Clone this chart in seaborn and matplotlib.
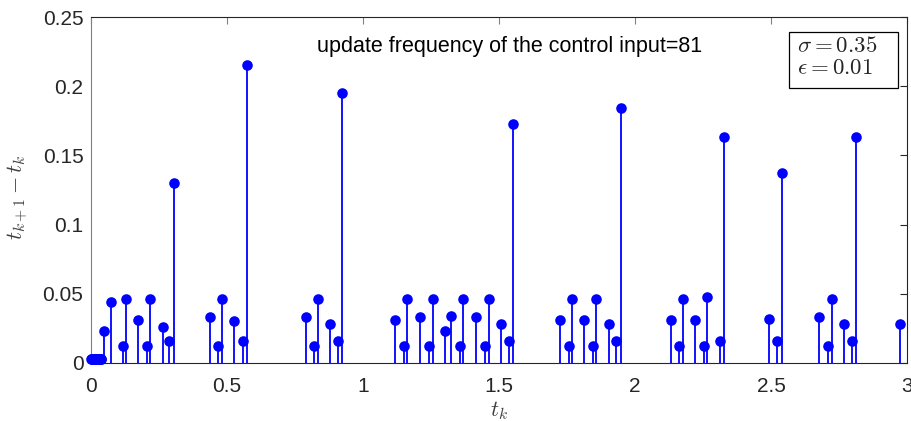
import matplotlib.pyplot as plt
import seaborn as sns
import pandas as pd
import numpy as np

# event times t_k and inter-event intervals t_{k+1}-t_k
t_start = [0.000, 0.0025, 0.005, 0.0075, 0.010, 0.0125, 0.015, 0.0175, 0.020,
           0.0225, 0.025, 0.0275, 0.030, 0.0325, 0.035, 0.037]
dt_start = [0.003, 0.003, 0.003, 0.003, 0.003, 0.003, 0.003, 0.003, 0.003,
            0.003, 0.003, 0.003, 0.003, 0.003, 0.003, 0.003]

t_rest = [0.049, 0.072, 0.116, 0.129, 0.173, 0.205, 0.217, 0.264, 0.288, 0.306,
          0.436, 0.467, 0.482, 0.526, 0.558, 0.572,
          0.789, 0.821, 0.836, 0.880, 0.909, 0.923,
          1.119, 1.151, 1.163, 1.210, 1.241, 1.256, 1.300, 1.322, 1.357, 1.369,
          1.415, 1.447, 1.462, 1.507, 1.536, 1.550,
          1.724, 1.756, 1.767, 1.813, 1.844, 1.858, 1.903, 1.931, 1.947,
          2.131, 2.163, 2.176, 2.222, 2.254, 2.265, 2.313, 2.328,
          2.493, 2.523, 2.539,
          2.676, 2.708, 2.723, 2.769, 2.797, 2.812,
          2.975]
dt_rest = [0.023, 0.044, 0.012, 0.046, 0.031, 0.012, 0.046, 0.026, 0.016, 0.130,
           0.033, 0.012, 0.046, 0.030, 0.016, 0.215,
           0.033, 0.012, 0.046, 0.028, 0.016, 0.195,
           0.031, 0.012, 0.046, 0.033, 0.012, 0.046, 0.023, 0.034, 0.012, 0.046,
           0.033, 0.012, 0.046, 0.028, 0.016, 0.173,
           0.031, 0.012, 0.046, 0.031, 0.012, 0.046, 0.028, 0.016, 0.184,
           0.031, 0.012, 0.046, 0.031, 0.012, 0.048, 0.016, 0.163,
           0.032, 0.016, 0.137,
           0.033, 0.012, 0.046, 0.028, 0.016, 0.163,
           0.028]

df = pd.DataFrame({'t': t_start + t_rest, 'dt': dt_start + dt_rest})

sns.set_style('white')
plt.rcParams['font.family'] = ['Liberation Sans', 'DejaVu Sans']
plt.rcParams['mathtext.fontset'] = 'cm'

fig = plt.figure(figsize=(9.12, 4.21), dpi=100)
ax = fig.add_axes([0.0998, 0.1378, 0.8947, 0.8218])

ax.vlines(df['t'], 0, df['dt'], color='#0000ff', lw=1.3, zorder=2)
sns.scatterplot(data=df, x='t', y='dt', color='#0000ff', s=58, edgecolor='#0000ff',
                linewidth=0, ax=ax, zorder=3, clip_on=False)

ax.set_xlim(0, 3)
ax.set_ylim(0, 0.25)
ax.set_xticks([0, 0.5, 1, 1.5, 2, 2.5, 3])
ax.set_xticklabels(['0', '0.5', '1', '1.5', '2', '2.5', '3'])
ax.set_yticks([0, 0.05, 0.1, 0.15, 0.2, 0.25])
ax.set_yticklabels(['0', '0.05', '0.1', '0.15', '0.2', '0.25'])
ax.tick_params(direction='in', length=5, width=0.8, colors='#262626',
               labelsize=15, top=True, right=True)
ax.tick_params(axis='x', colors='#808080', labelcolor='#262626', pad=10)
ax.tick_params(axis='y', pad=5.5)
for sp in ax.spines.values():
    sp.set_color('#262626')
    sp.set_linewidth(0.8)
ax.spines['left'].set_color('#808080')

ax.set_xlabel(r'$t_k$', fontsize=16, color='#404040')
ax.xaxis.set_label_coords(0.5, -0.105)
ax.set_ylabel(r'$t_{k+1}-t_k$', fontsize=16, color='#404040')
ax.yaxis.set_label_coords(-0.074, 0.48)

ax.text(0.513, 0.916, 'update frequency of the control input=81', transform=ax.transAxes,
        ha='center', va='center', fontsize=15.5, color='black')

# parameter box
ax.add_patch(plt.Rectangle((0.855, 0.795), 0.134, 0.162, transform=ax.transAxes,
                           fc='white', ec='black', lw=0.9, zorder=4))
ax.text(0.865, 0.919, r'$\sigma = 0.35$', transform=ax.transAxes,
        ha='left', va='center', fontsize=16.5, zorder=5)
ax.text(0.865, 0.853, r'$\epsilon = 0.01$', transform=ax.transAxes,
        ha='left', va='center', fontsize=16.5, zorder=5)

fig.savefig('out.png', dpi=100)
